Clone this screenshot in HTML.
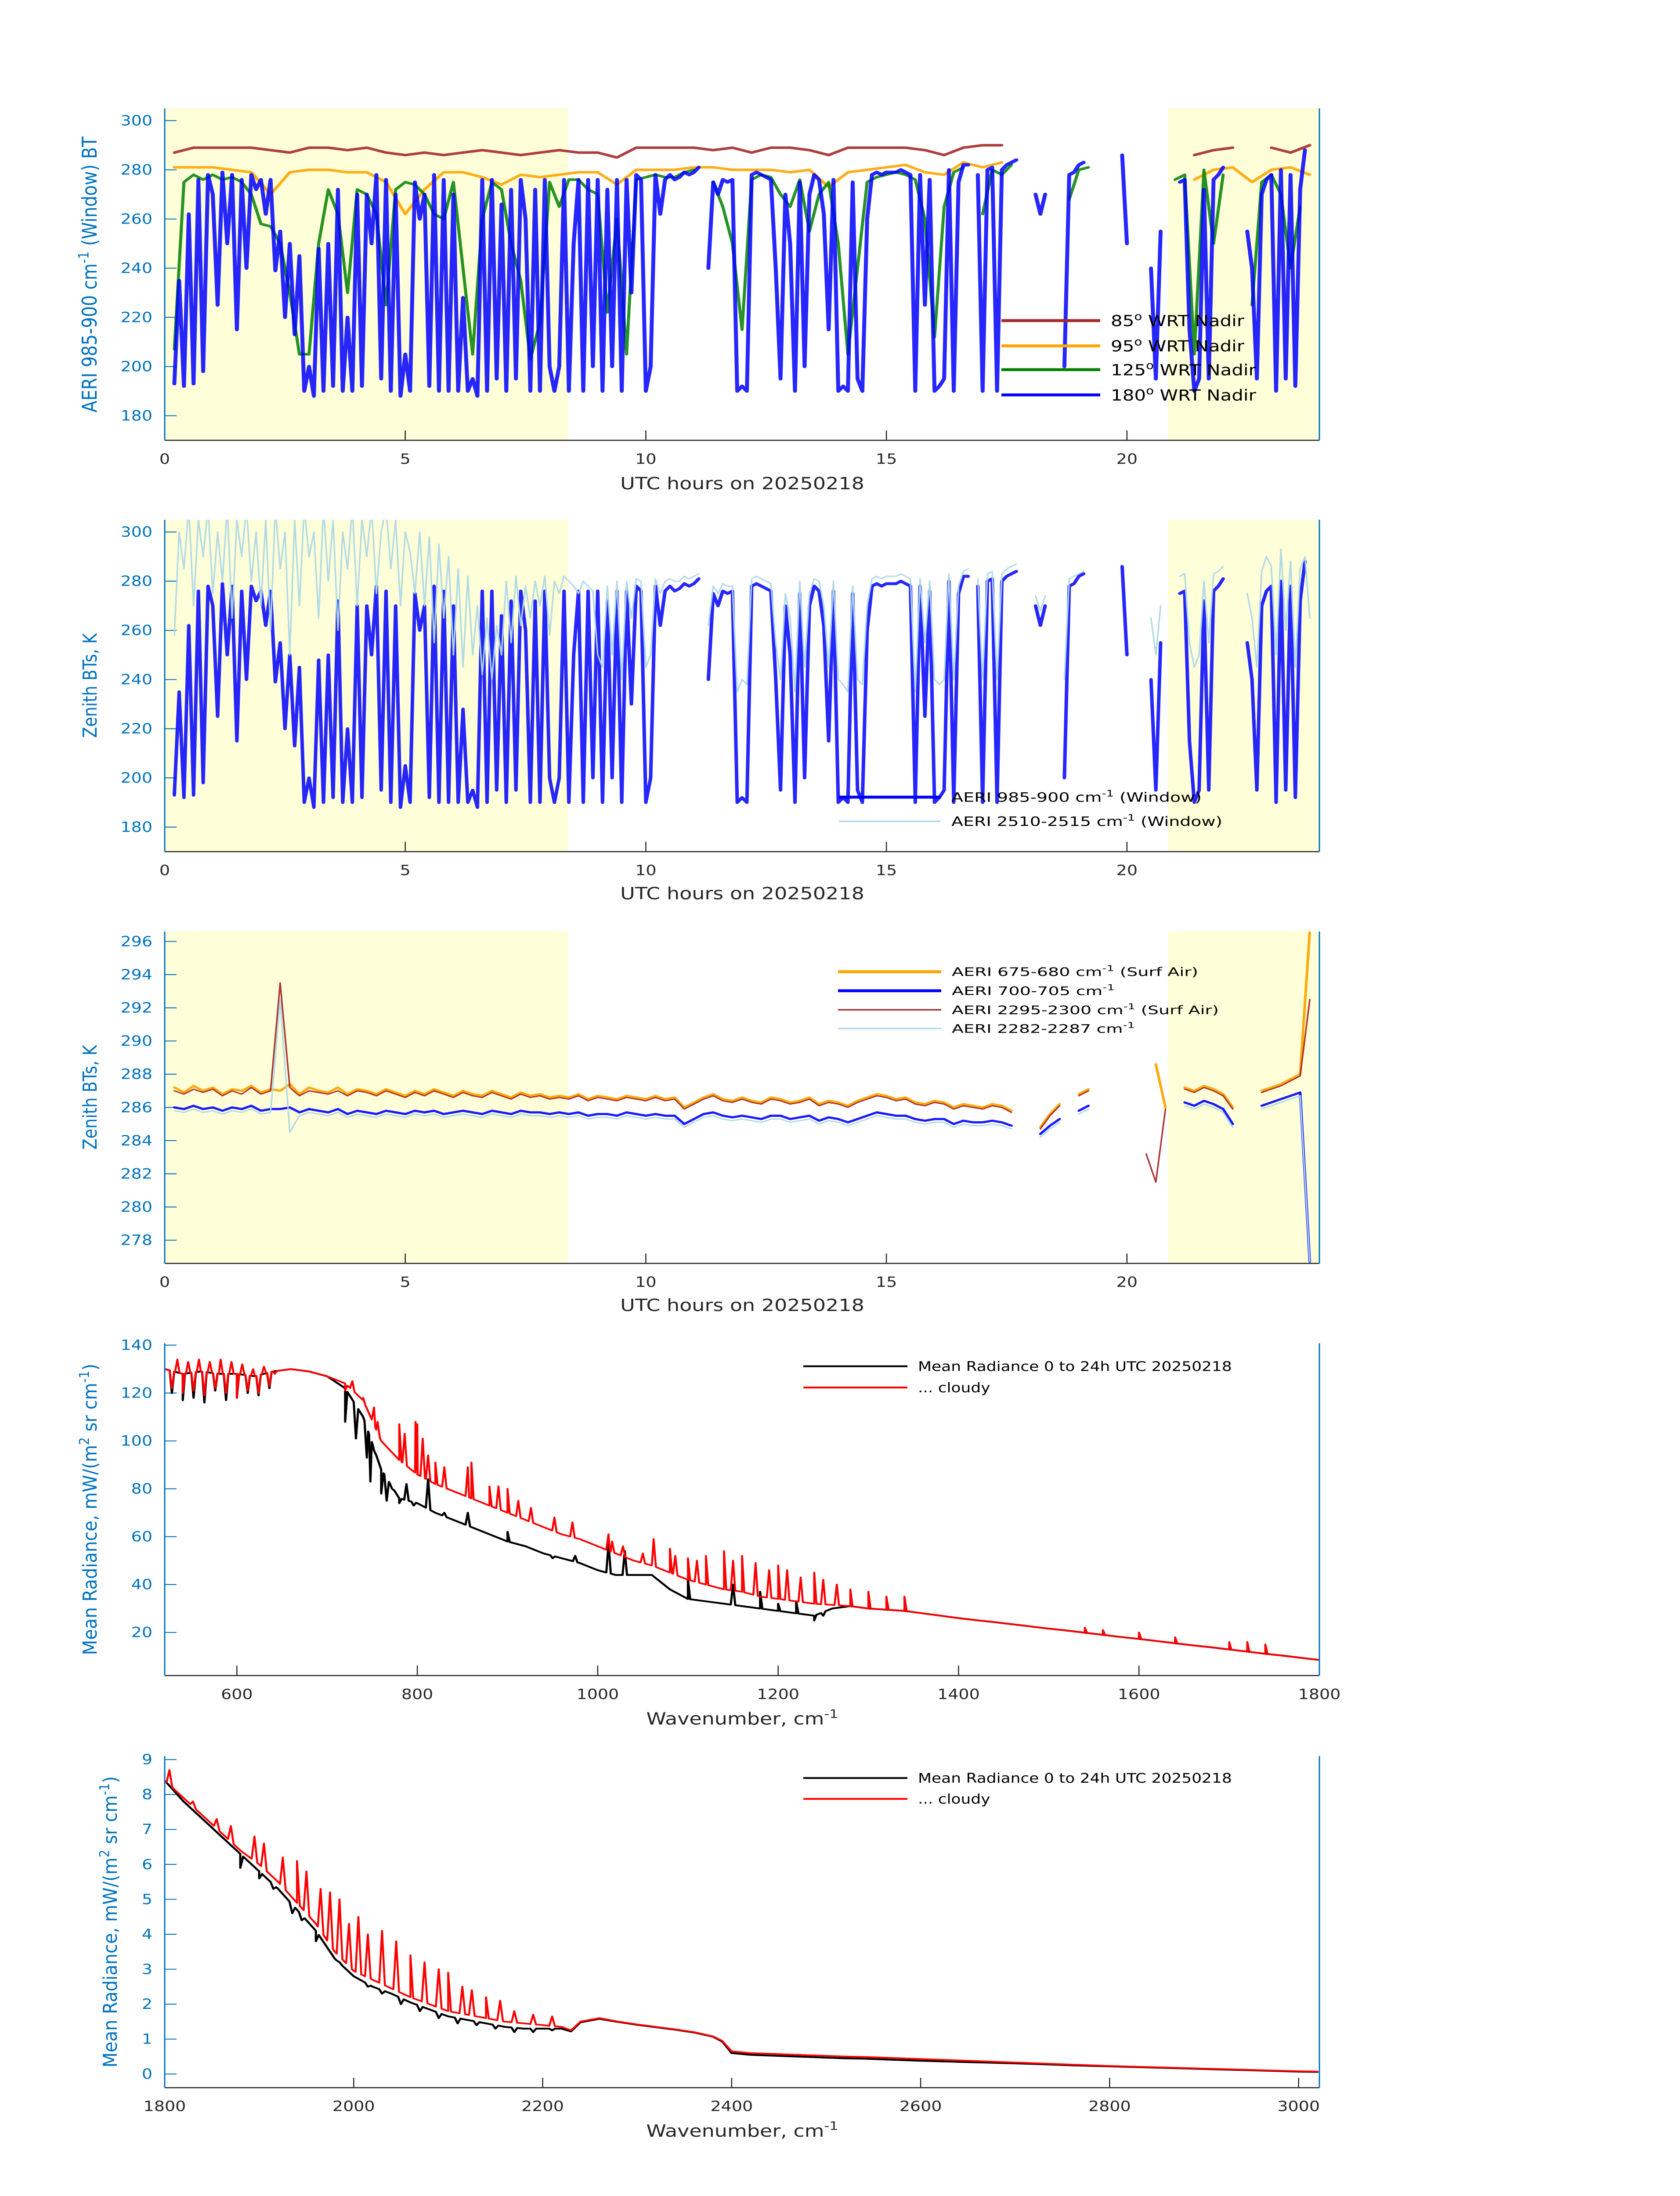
<!DOCTYPE html>
<html><head><meta charset="utf-8">
<style>
html,body{margin:0;padding:0;background:#fff;width:100%;height:100%;overflow:hidden;}
svg{display:block;width:100vw;height:100vh;}
text{font-family:"DejaVu Sans","Liberation Sans",sans-serif;}
</style></head>
<body>
<svg id="fig" viewBox="0 0 3825 6000" preserveAspectRatio="none" xmlns="http://www.w3.org/2000/svg">
<rect x="0" y="0" width="3825" height="6000" fill="#fff"/>
</svg>
<script>
// ---------------- DATA ----------------
// Panel 1/2 time series: hours start 0.2, step 0.1
const bt180 = [193,235,192,262,193,276,198,278,270,
225,279,250,278,215,276,240,278,272,276,
262,276,239,255,220,250,213,245,190,200,
188,248,190,250,192,272,190,220,190,270,
192,270,250,278,195,276,190,270,188,205,
190,275,260,270,192,278,190,276,190,270,
190,228,190,195,188,276,190,276,195,266,
190,272,195,276,260,190,272,190,276,200,
190,200,276,190,250,276,190,276,200,276,
190,272,200,276,190,276,230,278,276,190,
200,278,262,276,278,276,277,279,278,279,
281,null,240,275,270,276,275,276,190,192,
190,278,279,278,277,276,240,195,270,250,
190,275,200,270,278,276,262,215,276,190,
192,190,275,195,190,260,278,279,278,279,
279,279,280,279,278,190,278,225,276,190,
192,195,280,190,275,282,282,null,278,190,
280,281,190,280,282,283,284,null,null,null,
270,262,270,null,null,null,200,278,279,282,
283,null,null,null,null,null,null,null,286,250,
null,null,null,null,240,195,255,null,null,null,
275,276,215,190,195,272,195,276,278,281,
null,null,null,null,255,240,195,270,276,278,
190,280,195,278,192,272,288,null,null,null];
// Panel 1 green (125 deg): start 0.2, step 0.2
const bt125 = [207,275,278,276,278,276,277,275,270,258,
257,250,230,205,205,250,272,262,230,272,
270,262,225,272,275,274,270,262,260,275,
240,205,260,275,272,250,235,203,218,275,
265,276,276,272,270,222,260,205,276,277,
278,277,277,279,280,null,275,265,250,215,
276,278,277,270,265,276,255,270,275,250,
205,240,275,277,278,279,278,276,260,212,
265,279,281,null,262,280,278,282,null,null,
277,null,null,268,280,281,null,null,null,null,
null,null,270,null,276,278,205,280,250,278,
null,null,225,275,278,270,240,265,null,null];
// Panel 1 orange (95 deg): start 0.2, step 0.4
const bt95 = [281,281,281,280,279,270,279,280,280,279,
279,275,262,272,279,279,277,274,278,277,
278,279,279,274,280,280,280,281,281,280,
280,280,279,280,273,279,280,281,282,279,
278,283,281,283,null,279,null,280,null,null,
null,268,null,276,280,281,275,280,281,278];
// Panel 1 maroon (85 deg): start 0.2, step 0.4
const bt85 = [287,289,289,289,289,288,287,289,289,288,
289,287,286,287,286,287,288,287,286,287,
288,287,287,285,289,289,289,289,288,289,
287,289,289,288,286,289,289,289,289,288,
286,289,290,290,null,287,null,289,null,null,
287,null,null,286,288,289,null,289,287,290];
// Panel 2 light series (2510-2515): start 0.2, step 0.1
const bt2510 = [258,300,285,310,270,305,290,310,275,
300,280,310,265,305,290,310,280,300,270,
305,260,310,285,300,250,305,270,310,290,
300,265,310,280,305,260,300,285,310,270,
305,290,310,275,300,310,285,305,270,300,
292,275,300,270,298,255,295,265,290,250,
285,245,282,250,270,242,265,240,262,250,
280,255,282,262,278,265,280,270,282,258,
280,275,282,280,278,275,280,278,276,250,
245,278,250,280,240,280,265,281,280,245,
250,281,275,280,281,280,280,282,281,282,
283,null,262,278,275,279,278,278,235,240,
238,281,282,281,280,279,255,240,275,265,
235,280,245,275,281,280,270,245,280,240,
238,235,278,240,238,270,281,282,281,282,
282,282,283,282,281,235,281,255,280,240,
238,240,283,240,278,284,285,null,281,240,
283,284,240,283,285,286,287,null,null,null,
274,268,274,null,null,null,240,281,282,283,
284,null,null,null,null,null,null,null,null,null,
null,null,null,null,265,250,270,null,null,null,
282,283,255,245,250,280,255,283,284,286,
null,null,null,null,275,265,245,284,290,286,
250,293,260,288,245,285,290,265,null,null];
// Panel 3 series: start 0.2, step 0.2
const bt675 = [287.2,286.9,287.3,287.0,287.2,286.8,287.1,287.0,287.3,286.9,
287.1,287.0,287.4,286.8,287.2,287.0,286.9,287.2,286.8,287.1,
287.0,286.8,287.1,286.9,286.7,287.0,286.8,287.1,286.9,286.7,
287.0,286.8,286.7,287.0,286.8,286.6,286.9,286.7,286.8,286.6,
286.7,286.6,286.8,286.5,286.7,286.6,286.5,286.7,286.6,286.5,
286.7,286.5,286.6,286.0,286.3,286.6,286.8,286.5,286.4,286.6,
286.4,286.3,286.6,286.5,286.3,286.4,286.6,286.2,286.4,286.3,
286.1,286.4,286.6,286.8,286.7,286.5,286.6,286.3,286.2,286.4,
286.3,286.0,286.2,286.1,286.0,286.2,286.1,285.8,null,null,
284.8,285.6,286.2,null,286.8,287.1,null,null,null,null,
null,null,288.6,286.0,null,287.2,287.0,287.3,287.1,286.8,
286.0,null,null,287.0,287.2,287.4,287.7,288.0,296.6,null];
const bt700 = [286.0,285.9,286.1,285.9,286.0,285.8,286.0,285.9,286.1,285.8,
285.9,285.9,286.0,285.7,285.9,285.8,285.7,285.9,285.6,285.8,
285.7,285.6,285.8,285.7,285.6,285.8,285.7,285.8,285.6,285.7,
285.8,285.7,285.6,285.8,285.7,285.6,285.8,285.7,285.7,285.6,
285.7,285.6,285.7,285.5,285.6,285.6,285.5,285.7,285.6,285.5,
285.6,285.5,285.5,285.0,285.3,285.6,285.7,285.5,285.4,285.5,
285.4,285.3,285.5,285.5,285.3,285.4,285.5,285.2,285.4,285.3,
285.1,285.3,285.5,285.7,285.6,285.5,285.5,285.3,285.2,285.3,
285.3,285.0,285.2,285.1,285.1,285.2,285.1,284.9,null,null,
284.4,284.9,285.3,null,285.8,286.1,null,null,null,277.0,
null,null,null,285.8,null,286.3,286.1,286.4,286.2,285.9,
285.0,null,null,286.1,286.3,286.5,286.7,286.9,276.7,null];
const bt2295 = [287.0,286.8,287.1,286.9,287.1,286.7,287.0,286.8,287.2,286.8,
287.0,293.5,287.2,286.7,287.0,286.9,286.8,287.0,286.7,287.0,
286.9,286.7,287.0,286.8,286.6,286.9,286.7,287.0,286.8,286.6,
286.9,286.7,286.6,286.9,286.7,286.5,286.8,286.6,286.7,286.5,
286.6,286.5,286.7,286.4,286.6,286.5,286.4,286.6,286.5,286.4,
286.6,286.4,286.5,285.9,286.2,286.5,286.7,286.4,286.3,286.5,
286.3,286.2,286.5,286.4,286.2,286.3,286.5,286.1,286.3,286.2,
286.0,286.3,286.5,286.7,286.6,286.4,286.5,286.2,286.1,286.3,
286.2,285.9,286.1,286.0,285.9,286.1,286.0,285.7,null,null,
284.7,285.5,286.1,null,286.7,287.0,null,null,null,null,
null,283.2,281.5,285.9,null,287.1,286.9,287.2,287.0,286.7,
285.9,null,null,286.9,287.1,287.3,287.6,287.9,292.5,null];
const bt2282 = [285.8,285.7,285.9,285.7,285.8,285.6,285.8,285.7,285.9,285.6,
285.7,292.5,284.5,285.5,285.7,285.6,285.5,285.7,285.4,285.6,
285.5,285.4,285.6,285.5,285.4,285.6,285.5,285.6,285.4,285.5,
285.6,285.5,285.4,285.6,285.5,285.4,285.6,285.5,285.5,285.4,
285.5,285.4,285.5,285.3,285.4,285.4,285.3,285.5,285.4,285.3,
285.4,285.3,285.3,284.8,285.1,285.4,285.5,285.3,285.2,285.3,
285.2,285.1,285.3,285.3,285.1,285.2,285.3,285.0,285.2,285.1,
284.9,285.1,285.3,285.5,285.4,285.3,285.3,285.1,285.0,285.1,
285.1,284.8,285.0,284.9,284.9,285.0,284.9,284.7,null,null,
284.2,284.7,285.1,null,285.6,285.9,null,null,null,286.8,
null,null,null,285.6,null,286.1,285.9,286.2,286.0,285.7,
284.8,null,null,285.9,286.1,286.3,286.5,286.7,276.7,null];

// Panel 4 spectra 520-1800
const wn4 = [520,540,560,580,600,620,640,660,680,700,720,740,760,780,800,820,840,860,880,900,920,940,960,980,1000,1020,1040,1060,1080,1100,1120,1140,1160,1180,1200,1220,1240,1260,1280,1300,1320,1340,1360,1380,1400,1420,1440,1460,1480,1500,1520,1540,1560,1580,1600,1620,1640,1660,1680,1700,1720,1740,1760,1780,1800];
const red4 = [130,128,129,128,128,127,129,130,129,127,124,117,100,92,86,82,79,76,73,70,67,64,61,59,56,53,50,48,45,42,40,38,37,35,34,33,32,31.5,31,30,29.5,29,28,27,26,25.1,24.3,23.4,22.5,21.6,20.8,19.9,19,18.1,17.3,16.4,15.5,14.6,13.8,12.9,12,11.1,10.3,9.4,8.5];
const black4 = [130,128,129,128,128,127,129,130,129,127,122,110,88,76,74,70,67,64,61,58,56,53,51,49,46,44,44,44,38,34,33,32,31,30,29,28,27,30,31,30,29.5,29,28,27,26,25.1,24.3,23.4,22.5,21.6,20.8,19.9,19,18.1,17.3,16.4,15.5,14.6,13.8,12.9,12,11.1,10.3,9.4,8.5];
const red4SpikeWn = [528,534,540,546,552,558,564,570,576,582,588,594,600,606,612,618,624,630,636,642,720,728,740,752,756,770,780,786,798,800,806,812,820,830,856,860,880,890,900,912,926,952,972,1012,1016,1028,1050,1062,1080,1086,1100,1110,1120,1140,1150,1160,1175,1190,1200,1210,1225,1240,1250,1265,1280,1300,1320,1340,1540,1560,1600,1640,1700,1720,1740];
const red4SpikeVal = [122,134,120,133,121,134,119,133,122,134,120,133,118,132,121,130,120,131,123,128,121,125,118,114,108,96,107,103,108,107,101,94,91,89,89,91,81,81,80,75,72,68,66,61,58,56,53,59,55,52,51,50,52,54,50,52,49,46,48,46,43,45,42,40,38,37,35,35,22,21,20,18,16,16,15];
const black4SpikeWn = [528,540,552,564,576,588,600,612,624,636,720,732,744,748,752,760,766,772,780,788,796,812,830,856,900,950,975,1012,1030,1100,1150,1180,1200,1220,1240,1250];
const black4SpikeVal = [120,117,118,116,121,117,118,120,119,122,108,101,93,83,96,78,75,80,74,82,73,84,70,70,62,51,52,57,54,42,40,37,32,33,25,27];

// Panel 5 spectra 1800-3020
const wn5 = [1800,1820,1840,1860,1880,1900,1920,1940,1960,1980,2000,2020,2040,2060,2080,2100,2120,2140,2160,2180,2200,2220,2230,2240,2260,2280,2300,2320,2340,2360,2380,2390,2400,2420,2440,2460,2480,2500,2520,2540,2560,2580,2600,2640,2680,2720,2760,2800,2840,2880,2920,2960,3000,3020];
const red5 = [8.4,7.9,7.4,6.9,6.4,6.0,5.5,4.9,4.3,3.5,2.95,2.7,2.45,2.2,2.0,1.8,1.7,1.6,1.5,1.45,1.4,1.35,1.25,1.5,1.6,1.5,1.42,1.35,1.28,1.2,1.08,0.95,0.65,0.6,0.58,0.56,0.54,0.52,0.5,0.49,0.47,0.45,0.43,0.39,0.35,0.31,0.27,0.23,0.2,0.17,0.14,0.11,0.08,0.07];
const black5 = [8.4,7.8,7.3,6.8,6.3,5.8,5.3,4.7,4.1,3.3,2.8,2.5,2.3,2.05,1.85,1.65,1.55,1.45,1.35,1.3,1.3,1.3,1.22,1.48,1.58,1.49,1.41,1.34,1.27,1.19,1.07,0.93,0.6,0.55,0.53,0.51,0.49,0.47,0.45,0.44,0.42,0.4,0.38,0.35,0.32,0.29,0.25,0.22,0.19,0.16,0.13,0.1,0.07,0.06];
const red5SpikeWn = [1805,1830,1855,1870,1895,1905,1925,1940,1950,1965,1975,1985,1995,2005,2015,2030,2045,2060,2075,2090,2100,2115,2125,2140,2155,2170,2190,2210];
const red5SpikeVal = [8.7,7.8,7.3,7.1,6.8,6.6,6.2,6.1,5.8,5.3,5.2,5.0,4.3,4.5,4.0,4.1,3.8,3.4,3.2,3.0,2.9,2.5,2.4,2.2,2.1,1.8,1.7,1.65];
const black5SpikeWn = [1880,1900,1915,1935,1945,1960,1985,2000,2015,2030,2050,2070,2090,2110,2130,2150,2170,2190,2210];
const black5SpikeVal = [5.9,5.6,5.3,4.6,4.4,3.8,3.2,2.8,2.5,2.3,2.0,1.8,1.6,1.45,1.4,1.3,1.2,1.2,1.25];

// tick labels
const hourTicks = [0,5,10,15,20];
const btTicks = [180,200,220,240,260,280,300];
const bt3Ticks = [278,280,282,284,286,288,290,292,294,296];
const radTicks4 = [20,40,60,80,100,120,140];
const wnTicks4 = [600,800,1000,1200,1400,1600,1800];
const radTicks5 = [0,1,2,3,4,5,6,7,8,9];
const wnTicks5 = [1800,2000,2200,2400,2600,2800,3000];

// ---------------- DRAWING ----------------
const NS = 'http://www.w3.org/2000/svg';
const svg = document.getElementById('fig');
const AXBLUE = '#0072BD', DARK = '#262626';
function mk(tag, attrs, parent){
  const e = document.createElementNS(NS, tag);
  for (const k in attrs) e.setAttribute(k, attrs[k]);
  (parent||svg).appendChild(e);
  return e;
}
function axes(top, bot, x0, x1, y0, y1, left, right){
  left = left||375; right = right||3004;
  return {top, bot, left, right,
    sx: v => left + (v - x0) / (x1 - x0) * (right - left),
    sy: v => bot - (v - y0) / (y1 - y0) * (bot - top)};
}
function path(ax, xs, ys, color, w, name, op){
  let d = '', pen = false;
  for (let i = 0; i < ys.length; i++){
    const v = ys[i];
    if (v === null || v === undefined || xs[i] === undefined){ pen = false; continue; }
    const X = ax.sx(xs[i]).toFixed(1), Y = ax.sy(v).toFixed(1);
    d += (pen ? 'L' : 'M') + X + ' ' + Y + ' ';
    pen = true;
  }
  const p = mk('path', {d, fill:'none', stroke:color, 'stroke-width':w, 'stroke-linejoin':'round', 'stroke-linecap':'round', 'stroke-opacity':op||1, 'clip-path':ax.clip});
  
  
  return p;
}
function hours(start, step, n){ const a=[]; for(let i=0;i<n;i++) a.push(start+step*i); return a; }
function interp(xs, ys, x){
  for (let i=0;i<xs.length-1;i++){ if (x>=xs[i] && x<=xs[i+1]){ const f=(x-xs[i])/(xs[i+1]-xs[i]); return ys[i]+f*(ys[i+1]-ys[i]); } }
  return ys[ys.length-1];
}
function withSpikes(xs, ys, sw, sv, half){
  const pts = xs.map((x,i)=>[x, ys[i]]);
  sw.forEach((x,i)=>{ pts.push([x-half, interp(xs,ys,x-half)]); pts.push([x, sv[i]]); pts.push([x+half, interp(xs,ys,x+half)]); });
  pts.sort((a,b)=>a[0]-b[0]);
  return [pts.map(p=>p[0]), pts.map(p=>p[1])];
}
let clipId = 0;
function frame(ax, shade, xTicks, yTicks, xFmt, name){
  const id = 'clip' + (clipId++);
  const cp = mk('clipPath', {id});
  mk('rect', {x:ax.left, y:ax.top, width:ax.right-ax.left, height:ax.bot-ax.top}, cp);
  ax.clip = 'url(#' + id + ')';
  if (shade){
    shade.forEach((s,i)=>{
      const r = mk('rect', {x:ax.sx(s[0]), y:ax.top, width:ax.sx(s[1])-ax.sx(s[0]), height:ax.bot-ax.top, fill:'#FEFED9'});
      
      
    });
  }
  xTicks.forEach(t=>{
    const X = ax.sx(t);
    const l = mk('line', {x1:X, x2:X, y1:ax.bot, y2:ax.bot-27, stroke:DARK, 'stroke-width':2.5});
    
    
    const tx = mk('text', {x:X, y:ax.bot+64, 'font-size':38, fill:DARK, 'text-anchor':'middle'});
    tx.textContent = xFmt ? xFmt(t) : t;
    
    
  });
  yTicks.forEach(t=>{
    const Y = ax.sy(t);
    const l = mk('line', {x1:ax.left, x2:ax.left+27, y1:Y, y2:Y, stroke:AXBLUE, 'stroke-width':2.5});
    
    
    const tx = mk('text', {x:ax.left-28, y:Y+13, 'font-size':38, fill:AXBLUE, 'text-anchor':'end'});
    tx.textContent = t;
    
    
  });
}
function axisLines(ax, name){
  const b = mk('line', {x1:ax.left, x2:ax.right, y1:ax.bot, y2:ax.bot, stroke:DARK, 'stroke-width':3});
  
  
  const l = mk('line', {x1:ax.left, x2:ax.left, y1:ax.top, y2:ax.bot, stroke:AXBLUE, 'stroke-width':3});
  
  
  const r = mk('line', {x1:ax.right, x2:ax.right, y1:ax.top, y2:ax.bot, stroke:AXBLUE, 'stroke-width':3});
  
  
}
function label(x, y, html, size, color, rot, name, len){
  const t = mk('text', {x, y, 'font-size':size, fill:color, 'text-anchor':'middle'});
  if (rot) t.setAttribute('transform', 'rotate(-90 ' + x + ' ' + y + ')');
  if (len){ t.setAttribute('textLength', len); t.setAttribute('lengthAdjust', 'spacingAndGlyphs'); }
  t.innerHTML = html;
  
  
  return t;
}
function legendRow(x1, x2, y, color, w, html, size, name, len){
  const l = mk('line', {x1, x2, y1:y, y2:y, stroke:color, 'stroke-width':w});
  
  
  const t = mk('text', {x:x2+24, y:y+size*0.36, 'font-size':size, fill:'#000'});
  if (len){ t.setAttribute('textLength', len); t.setAttribute('lengthAdjust', 'spacingAndGlyphs'); }
  t.innerHTML = html;
  
  
}
const SUP = s => '<tspan baseline-shift="super" font-size="70%">' + s + '</tspan>';
const shadeP = [[0,8.38],[20.85,24]];
const hrFmt = t => t;

// ---- Panel 1 ----
const a1 = axes(296, 1203, 0, 24, 170, 305);
frame(a1, shadeP, hourTicks, btTicks, hrFmt, 'panel1');
path(a1, hours(0.2,0.4,bt85.length), bt85, '#A52A2A', 7, 'series-85deg', 0.9);
path(a1, hours(0.2,0.4,bt95.length), bt95, '#FFA500', 7, 'series-95deg', 0.9);
path(a1, hours(0.2,0.2,bt125.length), bt125, '#008000', 7, 'series-125deg', 0.85);
path(a1, hours(0.2,0.1,bt180.length), bt180, '#0000FF', 9, 'series-180deg', 0.85);
axisLines(a1, 'panel1');
label(220, 750, 'AERI 985-900 cm' + SUP('-1') + ' (Window) BT', 46, AXBLUE, true, 'panel1-y-axis-title', 754);
label(1690, 1337, 'UTC hours on 20250218', 46, DARK, false, 'panel1-x-axis-title');
legendRow(2280, 2505, 876, '#A52A2A', 8, '85' + SUP('o') + ' WRT Nadir', 42, 'legend-85deg');
legendRow(2280, 2505, 945, '#FFA500', 8, '95' + SUP('o') + ' WRT Nadir', 42, 'legend-95deg');
legendRow(2280, 2505, 1010, '#008000', 8, '125' + SUP('o') + ' WRT Nadir', 42, 'legend-125deg');
legendRow(2280, 2505, 1079, '#0000FF', 8, '180' + SUP('o') + ' WRT Nadir', 42, 'legend-180deg');

// ---- Panel 2 ----
const a2 = axes(1420, 2327, 0, 24, 170, 305);
frame(a2, shadeP, hourTicks, btTicks, hrFmt, 'panel2');
path(a2, hours(0.2,0.1,bt180.length), bt180, '#0000FF', 8, 'series-985-900', 0.85);
path(a2, hours(0.2,0.1,bt2510.length), bt2510, '#ADD8E6', 3.5, 'series-2510-2515', 0.95);
axisLines(a2, 'panel2');
label(220, 1873, 'Zenith BTs, K', 44, AXBLUE, true, 'panel2-y-axis-title');
label(1690, 2457, 'UTC hours on 20250218', 46, DARK, false, 'panel2-x-axis-title');
legendRow(1910, 2142, 2178, '#0000FF', 8, 'AERI 985-900 cm' + SUP('-1') + ' (Window)', 35, 'legend-985-900', 570);
legendRow(1910, 2142, 2244, '#ADD8E6', 4, 'AERI 2510-2515 cm' + SUP('-1') + ' (Window)', 35, 'legend-2510-2515', 617);

// ---- Panel 3 ----
const a3 = axes(2545, 3452, 0, 24, 276.6, 296.6);
frame(a3, shadeP, hourTicks, bt3Ticks, hrFmt, 'panel3');
path(a3, hours(0.2,0.2,bt675.length), bt675, '#FFA500', 6, 'series-675-680', 0.95);
path(a3, hours(0.2,0.2,bt700.length), bt700, '#0000FF', 6, 'series-700-705', 0.9);
path(a3, hours(0.2,0.2,bt2295.length), bt2295, '#A52A2A', 3.5, 'series-2295-2300', 0.95);
path(a3, hours(0.2,0.2,bt2282.length), bt2282, '#ADD8E6', 3.5, 'series-2282-2287', 0.95);
axisLines(a3, 'panel3');
label(220, 2998, 'Zenith BTs, K', 44, AXBLUE, true, 'panel3-y-axis-title');
label(1690, 3582, 'UTC hours on 20250218', 46, DARK, false, 'panel3-x-axis-title');
legendRow(1908, 2143, 2655, '#FFA500', 8, 'AERI 675-680 cm' + SUP('-1') + ' (Surf Air)', 32, 'legend-675-680', 561);
legendRow(1908, 2143, 2707, '#0000FF', 8, 'AERI 700-705 cm' + SUP('-1'), 32, 'legend-700-705', 371);
legendRow(1908, 2143, 2759, '#A52A2A', 4, 'AERI 2295-2300 cm' + SUP('-1') + ' (Surf Air)', 32, 'legend-2295-2300', 608);
legendRow(1908, 2143, 2810, '#ADD8E6', 4, 'AERI 2282-2287 cm' + SUP('-1'), 32, 'legend-2282-2287', 417);

// ---- Panel 4 ----
const a4 = axes(3670, 4578, 520, 1800, 2.0, 140.8);
frame(a4, null, wnTicks4, radTicks4, null, 'panel4');
let s = withSpikes(wn4, black4, black4SpikeWn, black4SpikeVal, 2.5);
path(a4, s[0], s[1], '#000000', 5, 'series-mean-radiance-all');
s = withSpikes(wn4, red4, red4SpikeWn, red4SpikeVal, 2.5);
path(a4, s[0], s[1], '#FF0000', 4.5, 'series-mean-radiance-cloudy');
axisLines(a4, 'panel4');
label(220, 4124, 'Mean Radiance, mW/(m' + SUP('2') + ' sr cm' + SUP('-1') + ')', 44, AXBLUE, true, 'panel4-y-axis-title', 796);
label(1690, 4712, 'Wavenumber, cm' + SUP('-1'), 46, DARK, false, 'panel4-x-axis-title');
legendRow(1829, 2066, 3733, '#000000', 5, 'Mean Radiance 0 to 24h UTC 20250218', 36, 'legend-mean-radiance');
legendRow(1829, 2066, 3791, '#FF0000', 5, '... cloudy', 36, 'legend-cloudy');

// ---- Panel 5 ----
const a5 = axes(4798, 5704, 1800, 3022, -0.39, 9.1);
frame(a5, null, wnTicks5, radTicks5, null, 'panel5');
s = withSpikes(wn5, black5, black5SpikeWn, black5SpikeVal, 3);
path(a5, s[0], s[1], '#000000', 5, 'series-mean-radiance-all-sw');
s = withSpikes(wn5, red5, red5SpikeWn, red5SpikeVal, 3);
path(a5, s[0], s[1], '#FF0000', 4.5, 'series-mean-radiance-cloudy-sw');
axisLines(a5, 'panel5');
label(266, 5251, 'Mean Radiance, mW/(m' + SUP('2') + ' sr cm' + SUP('-1') + ')', 44, AXBLUE, true, 'panel5-y-axis-title', 796);
label(1690, 5838, 'Wavenumber, cm' + SUP('-1'), 46, DARK, false, 'panel5-x-axis-title');
legendRow(1829, 2066, 4858, '#000000', 5, 'Mean Radiance 0 to 24h UTC 20250218', 36, 'legend-mean-radiance-sw');
legendRow(1829, 2066, 4915, '#FF0000', 5, '... cloudy', 36, 'legend-cloudy-sw');
</script>
</body></html>
